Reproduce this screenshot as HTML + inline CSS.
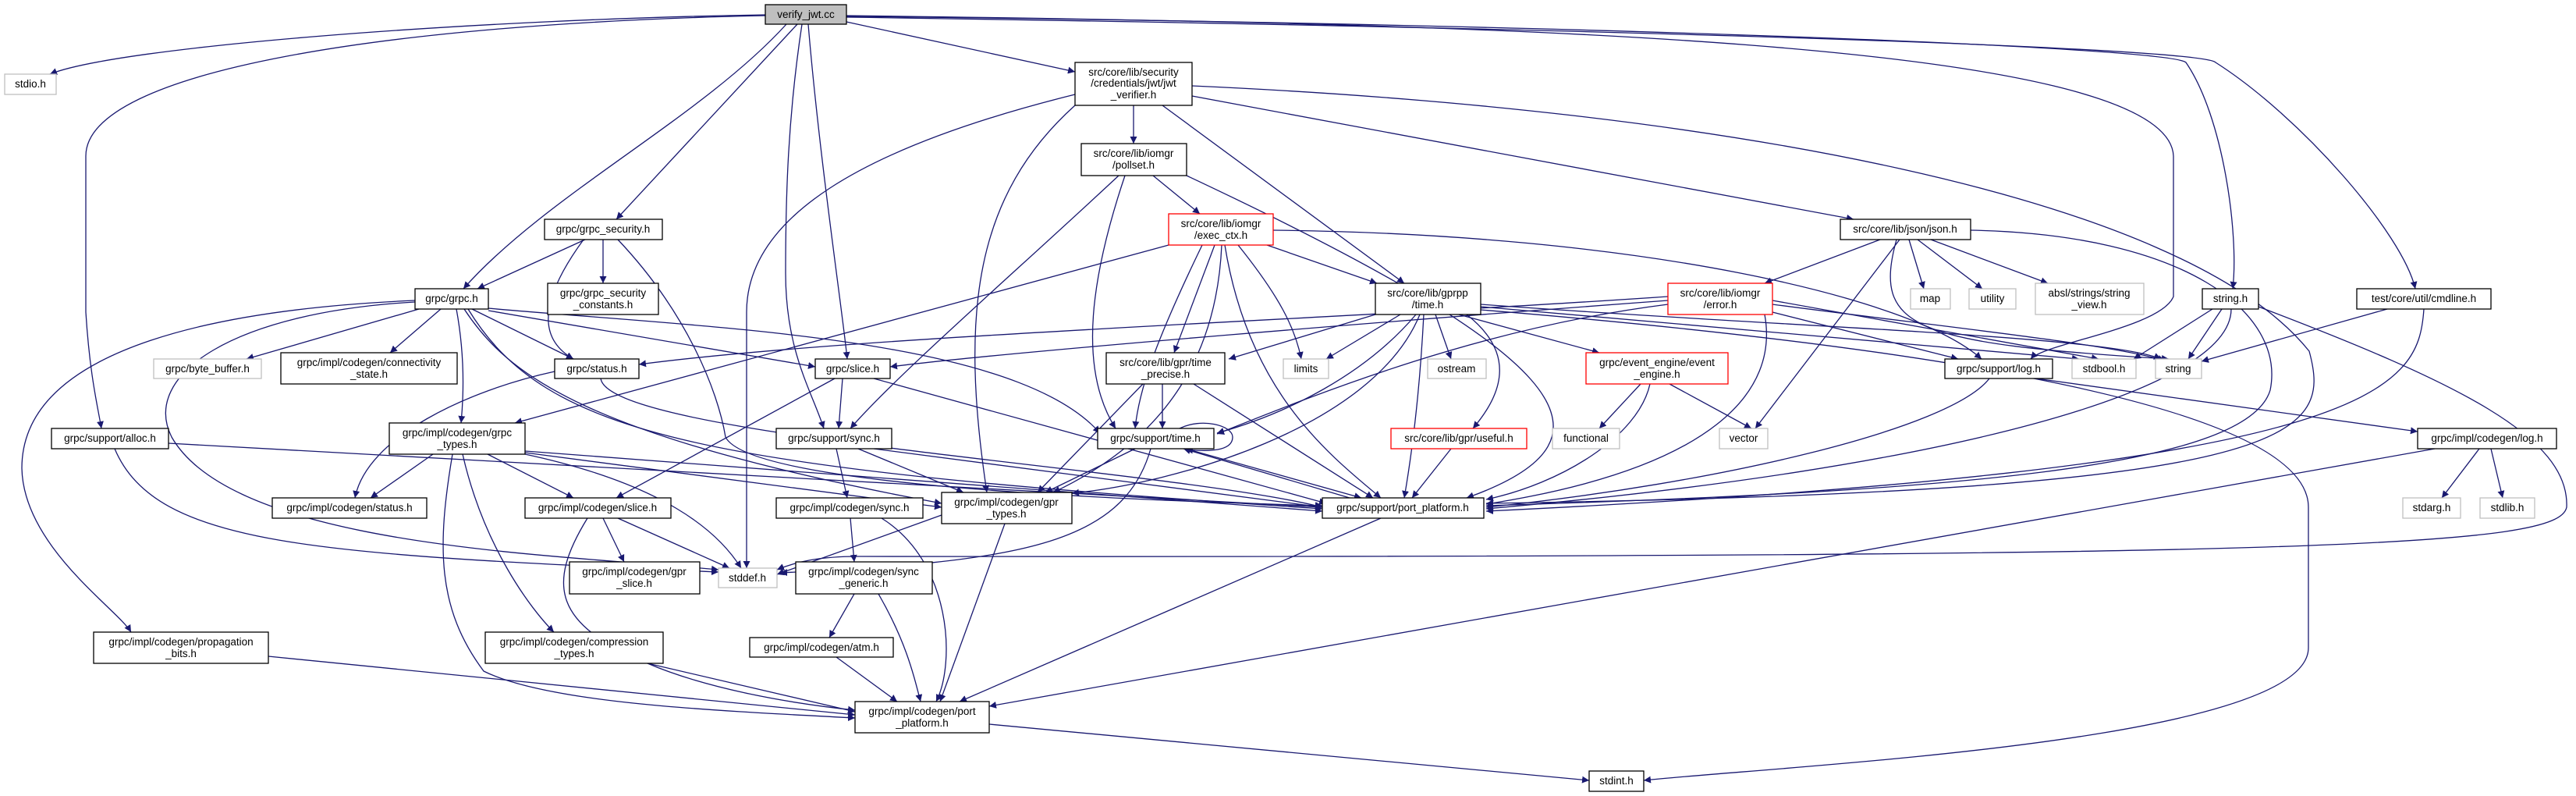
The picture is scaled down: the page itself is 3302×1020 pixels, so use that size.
<!DOCTYPE html>
<html><head><meta charset="utf-8"><style>
html,body{margin:0;padding:0;background:#fff;}
svg{display:block;}
text{font-family:"Liberation Sans","DejaVu Sans",sans-serif;font-size:13.5px;fill:#000;text-anchor:middle;}
.n{fill:#fff;stroke:#000;stroke-width:1.3;}
.g{fill:#fff;stroke:#bfbfbf;stroke-width:1.3;}
.r{fill:#fff;stroke:#ff0000;stroke-width:1.3;}
.e{fill:none;stroke:#191970;stroke-width:1.3;marker-end:url(#a);}
</style></head><body>
<svg width="3302" height="1020" viewBox="0 0 3302 1020" xmlns="http://www.w3.org/2000/svg">
<defs><marker id="a" viewBox="0 0 10 10" refX="10" refY="5" markerWidth="9" markerHeight="9" markerUnits="userSpaceOnUse" orient="auto"><path d="M0,0 L10,5 L0,10 z" fill="#191970"/></marker></defs>
<g>
<path class="e" d="M981,19 C600,25 150,60 64,95"/>
<path class="e" d="M981,20 C500,30 110,90 110,200 L110,400 C115,480 125,520 130,549"/>
<path class="e" d="M1008,31 C900,150 700,250 594,370"/>
<path class="e" d="M1022,31 L790,281"/>
<path class="e" d="M1028,31 C1010,150 1007,250 1007,350 C1007,450 1040,500 1056,549"/>
<path class="e" d="M1036,31 C1050,200 1080,400 1086,460"/>
<path class="e" d="M1085,28 L1378,92"/>
<path class="e" d="M1085,20 C1900,30 2780,50 2786,200 L2786,380 C2770,420 2620,440 2603,460"/>
<path class="e" d="M1085,21 C2000,30 2780,60 2802,80 C2850,150 2870,300 2862,370"/>
<path class="e" d="M1085,22 C2000,35 2820,60 2840,80 C2950,150 3080,300 3096,370"/>
<path class="e" d="M1453,135 L1453,184"/>
<path class="e" d="M1490,135 L1800,363"/>
<path class="e" d="M1528,123 L2376,281"/>
<path class="e" d="M1528,110 C2200,140 2800,250 2960,450 C2990,560 2950,630 1905,645"/>
<path class="e" d="M1378,121 C1100,190 957,280 957,400 L957,728"/>
<path class="e" d="M1378,135 C1250,250 1230,400 1265,631"/>
<path class="e" d="M1478,225 L1538,274"/>
<path class="e" d="M1434,225 C1300,350 1150,480 1090,549"/>
<path class="e" d="M1442,225 C1400,350 1380,470 1430,549"/>
<path class="e" d="M1521,225 C2000,450 2100,560 1880,638"/>
<path class="e" d="M1624,314 L1765,363"/>
<path class="e" d="M1557,314 L1505,452"/>
<path class="e" d="M1587,314 C1640,380 1660,420 1668,460"/>
<path class="e" d="M1498,314 L660,542"/>
<path class="e" d="M1541,314 C1480,440 1460,500 1455,549"/>
<path class="e" d="M1566,314 C1560,450 1500,560 1350,631"/>
<path class="e" d="M1570,314 C1600,500 1700,580 1770,638"/>
<path class="e" d="M1632,295 C2100,300 2450,380 2540,460"/>
<path class="e" d="M1795,403 L1700,460"/>
<path class="e" d="M1840,403 L1860,460"/>
<path class="e" d="M1763,403 L1575,460"/>
<path class="e" d="M1870,403 L2050,452"/>
<path class="e" d="M1880,403 C1940,450 1930,500 1888,549"/>
<path class="e" d="M1815,403 C1750,480 1650,530 1560,555"/>
<path class="e" d="M1820,403 C1760,550 1500,620 1374,632"/>
<path class="e" d="M1825,403 C1820,500 1810,580 1800,638"/>
<path class="e" d="M1898,390 C2300,420 2700,430 2770,460"/>
<path class="e" d="M1898,393 L2665,460"/>
<path class="e" d="M1898,397 C2300,430 2959,500 2959,650 L2959,830 C2959,950 2300,980 2107,1000"/>
<path class="e" d="M2138,390 C1900,420 1700,500 1560,556"/>
<path class="e" d="M2138,385 C1800,410 1300,450 1141,470"/>
<path class="e" d="M2138,380 C1700,410 1100,430 819,467"/>
<path class="e" d="M2272,400 L2510,460"/>
<path class="e" d="M2272,390 C2500,420 2700,440 2775,462"/>
<path class="e" d="M2272,385 L2690,460"/>
<path class="e" d="M2262,403 C2280,500 2200,600 1905,646"/>
<path class="e" d="M2410,307 L2262,363"/>
<path class="e" d="M2447,307 L2466,370"/>
<path class="e" d="M2458,307 L2541,370"/>
<path class="e" d="M2475,307 L2625,363"/>
<path class="e" d="M2435,307 L2250,549"/>
<path class="e" d="M2431,307 C2400,420 2450,440 2780,460"/>
<path class="e" d="M2526,295 C2800,300 2930,400 2910,500 C2880,600 2500,630 1905,648"/>
<path class="e" d="M2610,485 L3099,553"/>
<path class="e" d="M2550,485 C2500,550 2200,620 1905,650"/>
<path class="e" d="M2836,396 L2735,460"/>
<path class="e" d="M2848,396 L2805,460"/>
<path class="e" d="M2860,396 C2860,500 2500,600 1905,652"/>
<path class="e" d="M2895,393 C3150,490 3294,560 3290,650 C3280,700 3000,715 1100,713 C1050,713 1020,720 996,730"/>
<path class="e" d="M3060,396 L2822,463"/>
<path class="e" d="M3107,396 C3100,500 3050,600 1905,655"/>
<path class="e" d="M3178,575 L3130,638"/>
<path class="e" d="M3193,575 L3208,638"/>
<path class="e" d="M3121,575 L1268,905"/>
<path class="e" d="M537,396 L316,460"/>
<path class="e" d="M565,396 L500,452"/>
<path class="e" d="M605,396 L735,460"/>
<path class="e" d="M626,398 L1045,470"/>
<path class="e" d="M626,395 C900,420 1300,430 1410,555"/>
<path class="e" d="M585,396 C595,450 595,500 591,542"/>
<path class="e" d="M532,385 C300,395 28,440 28,600 C30,700 150,780 168,810"/>
<path class="e" d="M532,387 C300,400 180,480 220,560 C300,700 700,710 921,730"/>
<path class="e" d="M595,396 C650,480 750,560 1207,645"/>
<path class="e" d="M600,396 C700,560 900,600 1695,652"/>
<path class="e" d="M750,307 L612,370"/>
<path class="e" d="M773,307 L773,363"/>
<path class="e" d="M748,307 C680,400 700,440 735,460"/>
<path class="e" d="M792,307 C880,400 920,500 930,560 C960,620 1400,640 1695,648"/>
<path class="e" d="M711,476 C600,500 470,560 455,638"/>
<path class="e" d="M770,485 C780,560 1500,600 1695,650"/>
<path class="e" d="M1070,485 L790,638"/>
<path class="e" d="M1080,485 L1075,549"/>
<path class="e" d="M1120,485 L1700,645"/>
<path class="e" d="M555,582 L475,638"/>
<path class="e" d="M625,582 L735,638"/>
<path class="e" d="M673,582 C850,620 920,680 950,728"/>
<path class="e" d="M593,582 C620,700 680,780 710,810"/>
<path class="e" d="M580,582 C560,700 560,780 620,860 C700,900 900,910 1096,920"/>
<path class="e" d="M673,580 L1207,650"/>
<path class="e" d="M673,578 L1695,655"/>
<path class="e" d="M773,664 L800,720"/>
<path class="e" d="M792,664 L935,728"/>
<path class="e" d="M753,664 C700,750 710,800 830,850 C900,880 1000,900 1096,910"/>
<path class="e" d="M147,575 C200,700 400,710 921,733"/>
<path class="e" d="M216,568 L1695,650"/>
<path class="e" d="M1072,575 L1086,638"/>
<path class="e" d="M1100,575 L1235,631"/>
<path class="e" d="M1120,575 L1695,650"/>
<path class="e" d="M1090,664 L1095,720"/>
<path class="e" d="M1130,664 C1220,720 1225,850 1200,899"/>
<path class="e" d="M1095,761 L1063,817"/>
<path class="e" d="M1126,761 C1160,820 1170,860 1180,899"/>
<path class="e" d="M1072,842 L1150,899"/>
<path class="e" d="M344,841 L1096,916"/>
<path class="e" d="M830,850 L1096,912"/>
<path class="e" d="M1455,575 L1340,631"/>
<path class="e" d="M1475,575 C1440,700 1300,720 1000,734"/>
<path class="e" d="M1520,575 L1745,638"/>
<path class="e" d="M1512,549 C1540,535 1580,545 1580,560 C1580,575 1560,580 1520,576"/>
<path class="e" d="M1730,638 L1517,575"/>
<path class="e" d="M1207,660 L996,736"/>
<path class="e" d="M1288,671 L1205,899"/>
<path class="e" d="M1770,664 L1230,899"/>
<path class="e" d="M1860,575 L1810,638"/>
<path class="e" d="M1490,492 L1490,549"/>
<path class="e" d="M1465,492 L1330,631"/>
<path class="e" d="M1530,492 L1760,638"/>
<path class="e" d="M2103,492 L2050,549"/>
<path class="e" d="M2140,492 L2245,549"/>
<path class="e" d="M2115,492 C2100,560 2000,620 1905,640"/>
<path class="e" d="M1268,928 L2037,1000"/>
</g>
<g>
<rect x="981" y="6" width="104" height="25" fill="#bfbfbf" stroke="#000" stroke-width="1.3"/><text x="1033" y="23">verify_jwt.cc</text>
<rect class="g" x="6" y="95" width="66" height="26"/><text x="39" y="112">stdio.h</text>
<rect class="n" x="1378" y="80" width="150" height="55"/><text x="1453" y="97">src/core/lib/security</text><text x="1453" y="111">/credentials/jwt/jwt</text><text x="1453" y="126">_verifier.h</text>
<rect class="n" x="1386" y="184" width="135" height="41"/><text x="1453" y="201">src/core/lib/iomgr</text><text x="1453" y="216">/pollset.h</text>
<rect class="r" x="1498" y="274" width="134" height="40"/><text x="1565" y="291">src/core/lib/iomgr</text><text x="1565" y="306">/exec_ctx.h</text>
<rect class="n" x="698" y="281" width="151" height="26"/><text x="773" y="298">grpc/grpc_security.h</text>
<rect class="n" x="2359" y="281" width="167" height="26"/><text x="2442" y="298">src/core/lib/json/json.h</text>
<rect class="n" x="702" y="363" width="142" height="40"/><text x="773" y="380">grpc/grpc_security</text><text x="773" y="395">_constants.h</text>
<rect class="n" x="532" y="370" width="94" height="26"/><text x="579" y="387">grpc/grpc.h</text>
<rect class="n" x="1763" y="363" width="135" height="40"/><text x="1830" y="380">src/core/lib/gprpp</text><text x="1830" y="395">/time.h</text>
<rect class="r" x="2138" y="363" width="134" height="40"/><text x="2205" y="380">src/core/lib/iomgr</text><text x="2205" y="395">/error.h</text>
<rect class="g" x="2449" y="370" width="51" height="26"/><text x="2474" y="387">map</text>
<rect class="g" x="2524" y="370" width="60" height="26"/><text x="2554" y="387">utility</text>
<rect class="g" x="2609" y="363" width="139" height="40"/><text x="2678" y="380">absl/strings/string</text><text x="2678" y="395">_view.h</text>
<rect class="n" x="2823" y="370" width="72" height="26"/><text x="2859" y="387">string.h</text>
<rect class="n" x="3021" y="370" width="172" height="26"/><text x="3107" y="387">test/core/util/cmdline.h</text>
<rect class="g" x="197" y="460" width="138" height="25"/><text x="266" y="477">grpc/byte_buffer.h</text>
<rect class="n" x="360" y="452" width="226" height="40"/><text x="473" y="469">grpc/impl/codegen/connectivity</text><text x="473" y="484">_state.h</text>
<rect class="n" x="711" y="460" width="108" height="25"/><text x="765" y="477">grpc/status.h</text>
<rect class="n" x="1045" y="460" width="96" height="25"/><text x="1093" y="477">grpc/slice.h</text>
<rect class="n" x="1418" y="452" width="152" height="40"/><text x="1494" y="469">src/core/lib/gpr/time</text><text x="1494" y="484">_precise.h</text>
<rect class="g" x="1645" y="460" width="58" height="25"/><text x="1674" y="477">limits</text>
<rect class="g" x="1830" y="460" width="75" height="25"/><text x="1867" y="477">ostream</text>
<rect class="r" x="2033" y="452" width="182" height="40"/><text x="2124" y="469">grpc/event_engine/event</text><text x="2124" y="484">_engine.h</text>
<rect class="n" x="2493" y="460" width="138" height="25"/><text x="2562" y="477">grpc/support/log.h</text>
<rect class="g" x="2656" y="460" width="82" height="25"/><text x="2697" y="477">stdbool.h</text>
<rect class="g" x="2763" y="460" width="59" height="25"/><text x="2792" y="477">string</text>
<rect class="n" x="66" y="549" width="150" height="26"/><text x="141" y="566">grpc/support/alloc.h</text>
<rect class="n" x="499" y="542" width="174" height="40"/><text x="586" y="559">grpc/impl/codegen/grpc</text><text x="586" y="574">_types.h</text>
<rect class="n" x="995" y="549" width="148" height="26"/><text x="1069" y="566">grpc/support/sync.h</text>
<rect class="n" x="1407" y="549" width="149" height="26"/><text x="1481" y="566">grpc/support/time.h</text>
<rect class="r" x="1783" y="549" width="174" height="26"/><text x="1870" y="566">src/core/lib/gpr/useful.h</text>
<rect class="g" x="1990" y="549" width="86" height="26"/><text x="2033" y="566">functional</text>
<rect class="g" x="2204" y="549" width="62" height="26"/><text x="2235" y="566">vector</text>
<rect class="n" x="3099" y="549" width="178" height="26"/><text x="3188" y="566">grpc/impl/codegen/log.h</text>
<rect class="n" x="349" y="638" width="198" height="26"/><text x="448" y="655">grpc/impl/codegen/status.h</text>
<rect class="n" x="673" y="638" width="187" height="26"/><text x="766" y="655">grpc/impl/codegen/slice.h</text>
<rect class="n" x="995" y="638" width="188" height="26"/><text x="1089" y="655">grpc/impl/codegen/sync.h</text>
<rect class="n" x="1207" y="631" width="167" height="40"/><text x="1290" y="648">grpc/impl/codegen/gpr</text><text x="1290" y="663">_types.h</text>
<rect class="n" x="1695" y="638" width="207" height="26"/><text x="1798" y="655">grpc/support/port_platform.h</text>
<rect class="g" x="3080" y="638" width="74" height="26"/><text x="3117" y="655">stdarg.h</text>
<rect class="g" x="3179" y="638" width="70" height="26"/><text x="3214" y="655">stdlib.h</text>
<rect class="n" x="730" y="720" width="167" height="41"/><text x="813" y="737">grpc/impl/codegen/gpr</text><text x="813" y="752">_slice.h</text>
<rect class="g" x="921" y="728" width="75" height="25"/><text x="958" y="745">stddef.h</text>
<rect class="n" x="1020" y="720" width="175" height="41"/><text x="1107" y="737">grpc/impl/codegen/sync</text><text x="1107" y="752">_generic.h</text>
<rect class="n" x="120" y="810" width="224" height="40"/><text x="232" y="827">grpc/impl/codegen/propagation</text><text x="232" y="842">_bits.h</text>
<rect class="n" x="622" y="810" width="228" height="40"/><text x="736" y="827">grpc/impl/codegen/compression</text><text x="736" y="842">_types.h</text>
<rect class="n" x="961" y="817" width="184" height="25"/><text x="1053" y="834">grpc/impl/codegen/atm.h</text>
<rect class="n" x="1096" y="899" width="172" height="40"/><text x="1182" y="916">grpc/impl/codegen/port</text><text x="1182" y="931">_platform.h</text>
<rect class="n" x="2037" y="988" width="70" height="26"/><text x="2072" y="1005">stdint.h</text>
</g>
</svg>
</body></html>
